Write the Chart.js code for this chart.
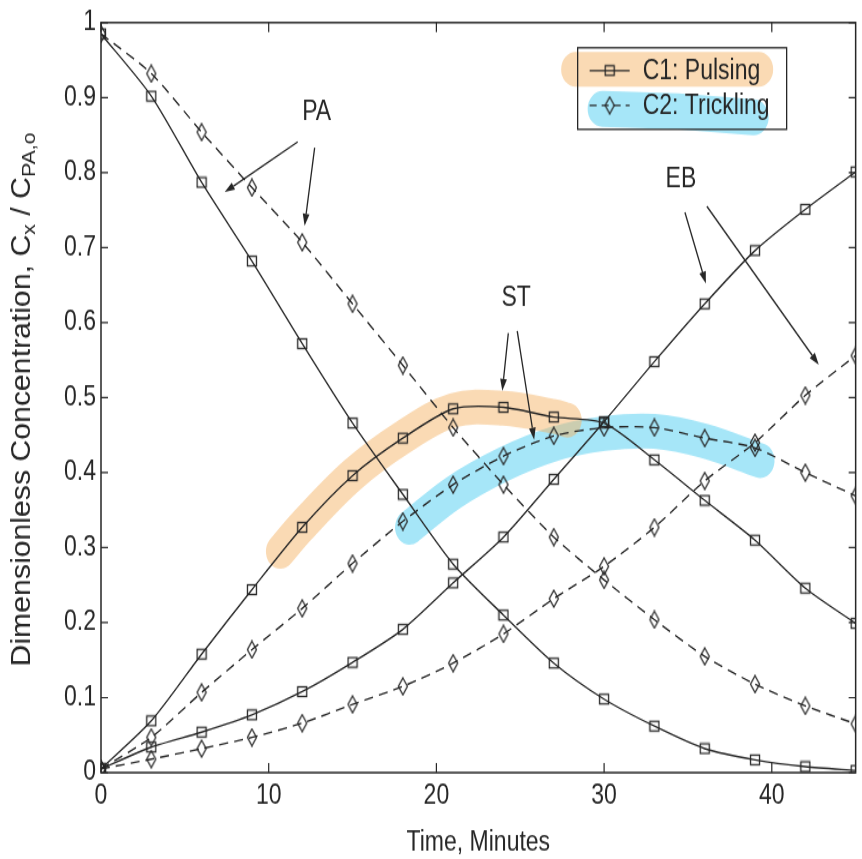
<!DOCTYPE html>
<html>
<head>
<meta charset="utf-8">
<script src="https://cdn.jsdelivr.net/npm/chart.js@4.4.1/dist/chart.umd.min.js"></script>
<style>
  html, body { margin: 0; padding: 0; background: #fff; }
  #wrap { width: 862px; height: 859px; position: relative; overflow: hidden; background: #fff; }
  /* the source figure is a scan that was stretched vertically (~1.2x); reproduce that stretch */
  #c { transform: scaleY(1.1997); transform-origin: 0 0; }
</style>
</head>
<body>
<div id="wrap"><canvas id="c" width="862" height="716"></canvas></div>
<script>
// ---- data (time in minutes, dimensionless concentration) ----
const timeMin = [0, 3, 6, 9, 12, 15, 18, 21, 24, 27, 30, 33, 36, 39, 42, 45];
const paPulsing   = [0.985, 0.902, 0.787, 0.682, 0.572, 0.466, 0.371, 0.278, 0.210, 0.146, 0.098, 0.062, 0.032, 0.017, 0.008, 0.003];
const paTrickling = [0.985, 0.932, 0.854, 0.780, 0.707, 0.625, 0.543, 0.460, 0.384, 0.314, 0.257, 0.204, 0.155, 0.118, 0.089, 0.065];
const stPulsing   = [0.005, 0.069, 0.158, 0.244, 0.327, 0.396, 0.446, 0.485, 0.487, 0.474, 0.466, 0.417, 0.363, 0.310, 0.246, 0.199];
const stTrickling = [0.005, 0.047, 0.107, 0.164, 0.219, 0.279, 0.335, 0.384, 0.422, 0.449, 0.460, 0.460, 0.446, 0.433, 0.400, 0.369];
const ebPulsing   = [0.005, 0.034, 0.054, 0.077, 0.108, 0.147, 0.191, 0.253, 0.314, 0.391, 0.468, 0.548, 0.625, 0.696, 0.751, 0.801];
const ebTrickling = [0.005, 0.018, 0.032, 0.047, 0.066, 0.091, 0.115, 0.146, 0.185, 0.232, 0.275, 0.327, 0.389, 0.440, 0.503, 0.556];

// hand-drawn highlighter strokes over the ST curves (data space)
const orangeMarkT = [10.7, 12, 15, 18, 21, 24, 27, 27.8];
const orangeMarkV = [0.295, 0.329, 0.397, 0.447, 0.483, 0.486, 0.475, 0.470];
const cyanMarkT = [18.4, 21, 24, 27, 30, 33, 36, 39.3];
const cyanMarkV = [0.327, 0.373, 0.411, 0.438, 0.452, 0.455, 0.442, 0.416];

// tick labels
const xTicks = [0, 10, 20, 30, 40];
const yTicks = [0, 0.1, 0.2, 0.3, 0.4, 0.5, 0.6, 0.7, 0.8, 0.9, 1];
const xTitle = 'Time, Minutes';
const legendLabels = ['C1: Pulsing', 'C2: Trickling'];

// annotations: label [t, v], arrows [[t0,v0,t1,v1], ...]
const annLabels = ['PA', 'ST', 'EB'];
const annLabelPos = [[12.86, 0.881], [24.76, 0.632], [34.58, 0.791]];
const annArrows = [
  [[11.73, 0.841, 7.38, 0.774], [12.74, 0.833, 12.14, 0.729]],
  [[24.29, 0.586, 23.93, 0.509], [24.82, 0.589, 25.83, 0.444]],
  [[34.82, 0.747, 36.07, 0.652], [36.13, 0.755, 42.80, 0.544]]
];

// ---- styling ----
const FONT = '"Liberation Sans", Arial, Helvetica, sans-serif';
const INK = '#262626';
const ORANGE = 'rgba(245,178,98,0.48)';
const CYAN = 'rgba(58,200,240,0.45)';

function pts(vals) { return timeMin.map((t, i) => ({ x: t, y: vals[i] })); }
function markPts(ts, vs) { return ts.map((t, i) => ({ x: t, y: vs[i] })); }

function makeSquare() {
  const c = document.createElement('canvas'); c.width = 12; c.height = 11;
  const g = c.getContext('2d'); g.strokeStyle = INK; g.lineWidth = 1.3;
  g.strokeRect(1.5, 1.5, 9, 8); return c;
}
function makeDiamond() {
  const c = document.createElement('canvas'); c.width = 12; c.height = 16;
  const g = c.getContext('2d'); g.strokeStyle = INK; g.lineWidth = 1.3;
  g.beginPath(); g.moveTo(6, 1); g.lineTo(10.5, 8); g.lineTo(6, 15); g.lineTo(1.5, 8); g.closePath(); g.stroke();
  return c;
}
const SQ = makeSquare();
const DM = makeDiamond();

function series(label, vals, dashed) {
  return {
    label, data: pts(vals), borderColor: INK, borderWidth: 1.35,
    borderDash: dashed ? [9, 6] : [], pointStyle: dashed ? DM : SQ,
    pointRadius: 5, pointHoverRadius: 5, fill: false, tension: 0.25, order: 1
  };
}
function mark(vals, color) {
  return {
    label: '', data: vals, borderColor: color, borderWidth: 29, borderCapStyle: 'round',
    borderJoinStyle: 'round', pointRadius: 0, fill: false, tension: 0.35, order: 10
  };
}

const overlay = {
  id: 'overlay',
  afterDraw(chart) {
    const { ctx, chartArea: a, scales: { x, y } } = chart;
    ctx.save();
    // frame
    ctx.strokeStyle = INK; ctx.lineWidth = 1.5;
    ctx.strokeRect(a.left, a.top, a.right - a.left, a.bottom - a.top);
    // inward ticks on all four sides
    ctx.lineWidth = 1.2;
    xTicks.forEach(v => {
      const px = x.getPixelForValue(v);
      ctx.beginPath(); ctx.moveTo(px, a.bottom); ctx.lineTo(px, a.bottom - 8);
      ctx.moveTo(px, a.top); ctx.lineTo(px, a.top + 8); ctx.stroke();
    });
    yTicks.forEach(v => {
      const py = y.getPixelForValue(v);
      ctx.beginPath(); ctx.moveTo(a.left, py); ctx.lineTo(a.left + 7, py);
      ctx.moveTo(a.right, py); ctx.lineTo(a.right - 7, py); ctx.stroke();
    });
    // annotations
    ctx.fillStyle = INK; ctx.strokeStyle = INK; ctx.lineWidth = 1.3;
    ctx.font = '23px ' + FONT; ctx.textAlign = 'center'; ctx.textBaseline = 'middle';
    annLabels.forEach((lab, i) => {
      const p = annLabelPos[i];
      ctx.fillText(lab, x.getPixelForValue(p[0]), y.getPixelForValue(p[1]));
      annArrows[i].forEach(ar => {
        const x0 = x.getPixelForValue(ar[0]), y0 = y.getPixelForValue(ar[1]);
        const x1 = x.getPixelForValue(ar[2]), y1 = y.getPixelForValue(ar[3]);
        const ang = Math.atan2(y1 - y0, x1 - x0), L = 10, W = 3.4;
        const bx = x1 - L * Math.cos(ang), by = y1 - L * Math.sin(ang);
        ctx.beginPath(); ctx.moveTo(x0, y0); ctx.lineTo(bx, by); ctx.stroke();
        ctx.beginPath(); ctx.moveTo(x1, y1);
        ctx.lineTo(bx + W * Math.sin(ang), by - W * Math.cos(ang));
        ctx.lineTo(bx - W * Math.sin(ang), by + W * Math.cos(ang));
        ctx.closePath(); ctx.fill();
      });
    });
    // legend box (top right inside the axes)
    const bw = 209, bh = 68;
    const bx = a.right - 69 - bw, by = a.top + 21;
    ctx.fillStyle = '#fff'; ctx.fillRect(bx, by, bw, bh);
    // highlighter strokes behind the legend text
    ctx.lineCap = 'round'; ctx.lineWidth = 29;
    ctx.strokeStyle = ORANGE;
    ctx.beginPath(); ctx.moveTo(bx - 2, by + 18); ctx.lineTo(bx + 181, by + 18); ctx.stroke();
    ctx.strokeStyle = CYAN; ctx.lineWidth = 30;
    ctx.beginPath(); ctx.moveTo(bx + 25, by + 51); ctx.lineTo(bx + 100, by + 53); ctx.lineTo(bx + 176, by + 58); ctx.stroke();
    ctx.lineCap = 'butt';
    ctx.strokeStyle = INK; ctx.lineWidth = 1.3;
    ctx.strokeRect(bx, by, bw, bh);
    const rows = [by + 19, by + 48];
    rows.forEach((ry, i) => {
      ctx.lineWidth = 1.35; ctx.setLineDash(i ? [7, 5] : []);
      ctx.beginPath(); ctx.moveTo(bx + 12, ry); ctx.lineTo(bx + 52, ry); ctx.stroke();
      ctx.setLineDash([]);
      const img = i ? DM : SQ;
      ctx.drawImage(img, bx + 32 - img.width / 2, ry - img.height / 2);
      ctx.fillStyle = INK; ctx.textAlign = 'left'; ctx.textBaseline = 'middle';
      ctx.font = '23px ' + FONT;
      ctx.fillText(legendLabels[i], bx + 65, ry + 1);
    });
    // y-axis title with subscripts
    const cx = 23, cy = 333, targetLen = 445;
    const parts = [
      ['Dimensionless Concentration, C', 27, 0], ['x', 19, 7], [' / C', 27, 0], ['PA,o', 19, 7]
    ];
    let total = 0;
    parts.forEach(p => { ctx.font = p[1] + 'px ' + FONT; total += ctx.measureText(p[0]).width; });
    ctx.translate(cx, cy); ctx.rotate(-Math.PI / 2); ctx.scale(targetLen / total, 1);
    ctx.fillStyle = INK; ctx.textAlign = 'left'; ctx.textBaseline = 'middle';
    let xx = -total / 2;
    parts.forEach(p => {
      ctx.font = p[1] + 'px ' + FONT;
      ctx.fillText(p[0], xx, p[2]);
      xx += ctx.measureText(p[0]).width;
    });
    ctx.restore();
  }
};

new Chart(document.getElementById('c'), {
  type: 'line',
  data: {
    datasets: [
      mark(markPts(orangeMarkT, orangeMarkV), ORANGE),
      mark(markPts(cyanMarkT, cyanMarkV), CYAN),
      series('PA C1: Pulsing', paPulsing, false),
      series('PA C2: Trickling', paTrickling, true),
      series('ST C1: Pulsing', stPulsing, false),
      series('ST C2: Trickling', stTrickling, true),
      series('EB C1: Pulsing', ebPulsing, false),
      series('EB C2: Trickling', ebTrickling, true)
    ]
  },
  options: {
    responsive: false, animation: false, devicePixelRatio: 1,
    layout: { padding: { top: 14, right: 4, left: 0, bottom: 0 } },
    plugins: { legend: { display: false }, tooltip: { enabled: false } },
    scales: {
      x: {
        type: 'linear', min: 0, max: 45,
        afterBuildTicks: s => { s.ticks = xTicks.map(v => ({ value: v })); },
        afterFit: s => { s.height = 72; },
        grid: { display: false, drawTicks: false }, border: { display: false },
        ticks: { font: { family: FONT, size: 23 }, color: INK, padding: 6, maxRotation: 0, autoSkip: false,
                 callback: v => String(v) },
        title: { display: true, text: xTitle, font: { family: FONT, size: 23 }, color: INK, padding: { top: 0, bottom: 0 } }
      },
      y: {
        type: 'linear', min: 0, max: 1,
        afterBuildTicks: s => { s.ticks = yTicks.map(v => ({ value: v })); },
        afterFit: s => { s.width = 101; },
        grid: { display: false, drawTicks: false }, border: { display: false },
        ticks: { font: { family: FONT, size: 23 }, color: INK, padding: 5, autoSkip: false,
                 callback: v => String(Math.round(v * 10) / 10) }
      }
    }
  },
  plugins: [overlay]
});
</script>
</body>
</html>
